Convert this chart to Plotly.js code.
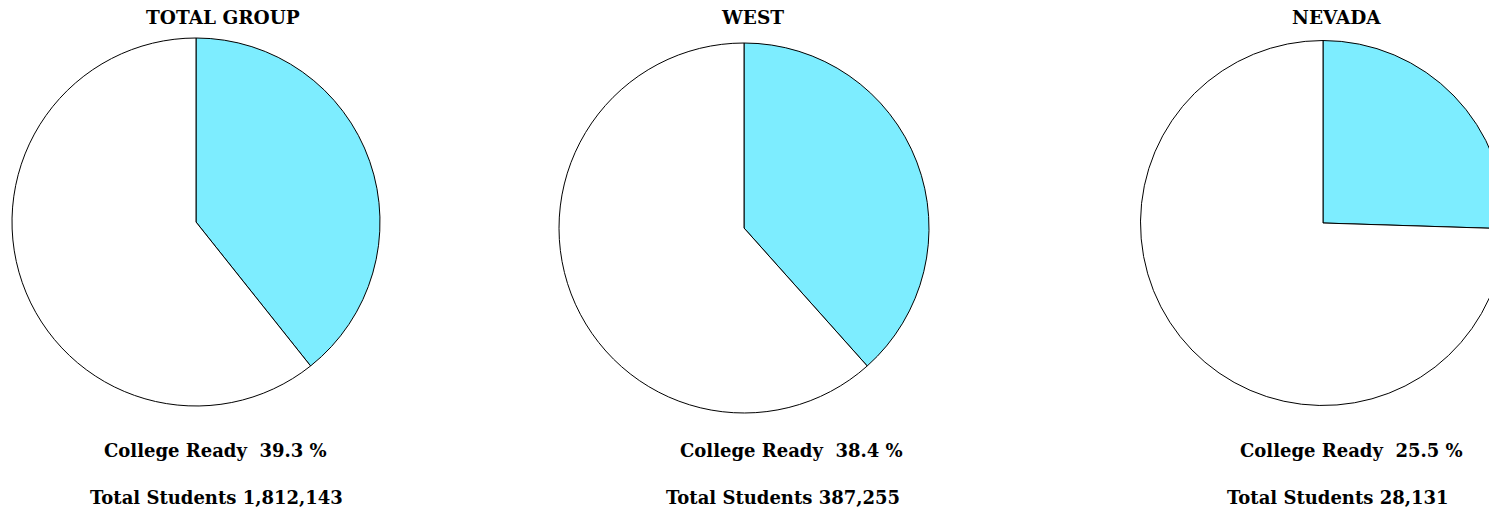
<!DOCTYPE html>
<html>
<head>
<meta charset="utf-8">
<script src="https://cdn.plot.ly/plotly-3.0.1.min.js"></script>
<style>
html,body{margin:0;padding:0;overflow:hidden;background:#fff;width:1489px;height:510px;}
#chart{width:1510px;height:510px;}
</style>
</head>
<body>
<div id="chart"></div>
<script>
// Data
const groups = ["TOTAL GROUP", "WEST", "NEVADA"];
const collegeReady = [39.3, 38.4, 25.5];
const totalStudents = ["1,812,143", "387,255", "28,131"];

// Layout (pixels)
const W = 1510, H = 510;
const pieCenters = [[196, 222, 184], [744, 228, 185], [1323, 223, 182.5]];
const titleX = [223, 752, 1336];
const readyX = [215, 791, 1351];
const totalX = [216, 783, 1338];
const cyan = "#7DEDFF";
const font = "DejaVu Serif, serif";

const traces = groups.map((g, i) => {
  const [cx, cy, r] = pieCenters[i];
  const yc = H - cy;
  return {
    type: "pie",
    values: [collegeReady[i], 100 - collegeReady[i]],
    labels: ["College Ready", "Not College Ready"],
    sort: false,
    direction: "clockwise",
    rotation: 0,
    textinfo: "none",
    hoverinfo: "none",
    showlegend: false,
    marker: {colors: [cyan, "#ffffff"], line: {color: "#000000", width: 1}},
    domain: {x: [(cx - r) / W, (cx + r) / W], y: [(yc - r) / H, (yc + r) / H]}
  };
});

const annotations = [];
groups.forEach((g, i) => {
  annotations.push({text: "<b>" + g + "</b>", x: titleX[i] / W, y: (H - 18) / H, xref: "paper", yref: "paper",
    showarrow: false, xanchor: "center", yanchor: "middle", font: {family: font, size: 18.5, color: "#000"}});
  annotations.push({text: "<b>College Ready\u00a0\u00a0" + collegeReady[i].toFixed(1) + " %</b>", x: readyX[i] / W, y: (H - 450) / H,
    xref: "paper", yref: "paper", showarrow: false, xanchor: "center", yanchor: "middle", font: {family: font, size: 18, color: "#000"}});
  annotations.push({text: "<b>Total Students " + totalStudents[i] + "</b>", x: totalX[i] / W, y: (H - 497) / H,
    xref: "paper", yref: "paper", showarrow: false, xanchor: "center", yanchor: "middle", font: {family: font, size: 18, color: "#000"}});
});

const layout = {
  width: W, height: H,
  margin: {l: 0, r: 0, t: 0, b: 0},
  paper_bgcolor: "#ffffff",
  plot_bgcolor: "#ffffff",
  showlegend: false,
  annotations: annotations
};

Plotly.newPlot("chart", traces, layout, {displayModeBar: false, staticPlot: true});
</script>
</body>
</html>
